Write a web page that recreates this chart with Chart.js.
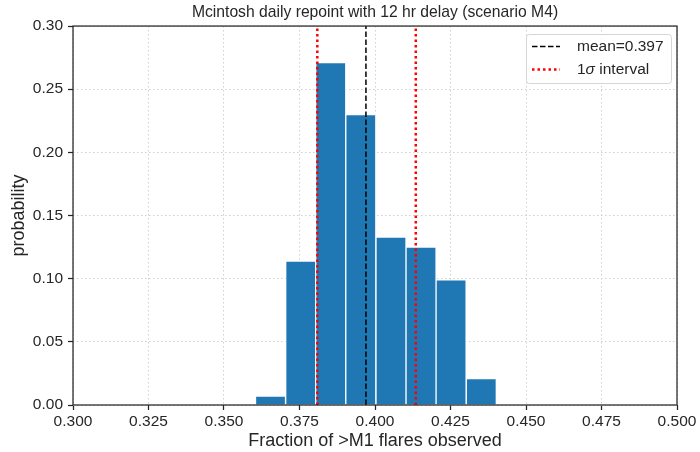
<!DOCTYPE html>
<html>
<head>
<meta charset="utf-8">
<script src="https://cdn.jsdelivr.net/npm/chart.js@4"></script>
<style>
  html, body { margin: 0; padding: 0; background: #fff; }
  #wrap { width: 700px; height: 452px; }
</style>
</head>
<body>
<div id="wrap"><canvas id="chart" width="700" height="452"></canvas></div>
<script>
// histogram bins (edges) and probabilities
const binEdges = [0.3604, 0.3704, 0.3804, 0.3903, 0.4003, 0.4103, 0.4202, 0.4302, 0.4402];
const probabilities = [0.007, 0.114, 0.271, 0.230, 0.133, 0.125, 0.099, 0.021];
const meanValue = 0.397;
const sigmaLow = 0.3809;
const sigmaHigh = 0.4135;
const xTicks = [0.300, 0.325, 0.350, 0.375, 0.400, 0.425, 0.450, 0.475, 0.500];
const yTicks = [0.00, 0.05, 0.10, 0.15, 0.20, 0.25, 0.30];

const FONT = "'Liberation Sans', Arial, sans-serif";
const INK = '#262626';

const barPoints = probabilities.map((p, i) => ({ x: (binEdges[i] + binEdges[i + 1]) / 2, y: p }));

// full frame round the plot + the legend box inside it
const framePlugin = {
  id: 'frame',
  afterDraw(chart) {
    const { ctx, chartArea: a } = chart;
    ctx.save();
    ctx.strokeStyle = INK;
    ctx.lineWidth = 1.25;
    ctx.strokeRect(a.left, a.top, a.right - a.left, a.bottom - a.top);

    // legend
    const bx = 526, by = 34, bw = 145, bh = 49;
    ctx.fillStyle = 'rgba(255,255,255,0.8)';
    ctx.strokeStyle = '#d6d6d6';
    ctx.lineWidth = 1;
    ctx.beginPath();
    ctx.roundRect(bx + 0.5, by + 0.5, bw, bh, 3);
    ctx.fill();
    ctx.stroke();

    const row1 = by + 12.5, row2 = by + 35.5;
    ctx.lineWidth = 1.5;
    ctx.strokeStyle = '#000';
    ctx.setLineDash([5.5, 2.5]);
    ctx.beginPath();
    ctx.moveTo(bx + 6, row1); ctx.lineTo(bx + 34, row1);
    ctx.stroke();

    ctx.lineWidth = 2.5;
    ctx.strokeStyle = 'red';
    ctx.setLineDash([2.5, 3]);
    ctx.beginPath();
    ctx.moveTo(bx + 6, row2); ctx.lineTo(bx + 34, row2);
    ctx.stroke();
    ctx.setLineDash([]);

    ctx.fillStyle = INK;
    ctx.textBaseline = 'middle';
    ctx.textAlign = 'left';
    ctx.font = '15.5px ' + FONT;
    ctx.fillText('mean=' + meanValue.toFixed(3), bx + 51, row1);
    let tx = bx + 51;
    ctx.fillText('1', tx, row2);
    tx += ctx.measureText('1').width;
    ctx.font = 'italic 15.5px ' + FONT;
    ctx.fillText('\u03c3', tx, row2);
    tx += ctx.measureText('\u03c3').width;
    ctx.font = '15.5px ' + FONT;
    ctx.fillText(' interval', tx, row2);
    ctx.restore();
  }
};

new Chart(document.getElementById('chart'), {
  type: 'bar',
  data: {
    datasets: [
      {
        label: 'hist',
        data: barPoints,
        backgroundColor: '#1f77b4',
        borderColor: '#ffffff',
        borderWidth: 1,
        barPercentage: 1,
        categoryPercentage: 1,
        order: 3
      },
      {
        type: 'line',
        label: 'mean=' + meanValue.toFixed(3),
        data: [{ x: meanValue, y: 0 }, { x: meanValue, y: 0.3 }],
        borderColor: '#000',
        borderWidth: 1.5,
        borderDash: [5.5, 2.5],
        pointRadius: 0,
        order: 1
      },
      {
        type: 'line',
        label: '1\u03c3 interval',
        data: [{ x: sigmaLow, y: 0 }, { x: sigmaLow, y: 0.3 }],
        borderColor: 'red',
        borderWidth: 2.5,
        borderDash: [2.5, 3],
        pointRadius: 0,
        order: 2
      },
      {
        type: 'line',
        label: '',
        data: [{ x: sigmaHigh, y: 0 }, { x: sigmaHigh, y: 0.3 }],
        borderColor: 'red',
        borderWidth: 2.5,
        borderDash: [2.5, 3],
        pointRadius: 0,
        order: 2
      }
    ]
  },
  options: {
    responsive: false,
    animation: false,
    layout: { padding: { left: 0, right: 23, top: 0, bottom: 0 } },
    plugins: {
      legend: { display: false },
      tooltip: { enabled: false },
      title: {
        display: true,
        fullSize: false,
        text: 'Mcintosh daily repoint with 12 hr delay (scenario M4)',
        color: INK,
        font: { family: FONT, size: 15.7, weight: 'normal' },
        padding: { top: 3, bottom: 4.2 }
      }
    },
    scales: {
      x: {
        type: 'linear',
        min: 0.3,
        max: 0.5,
        offset: false,
        afterBuildTicks(scale) { scale.ticks = xTicks.map(v => ({ value: v })); },
        afterFit(scale) { scale.height = 47; },
        ticks: {
          color: INK,
          font: { family: FONT, size: 15.5 },
          padding: 2,
          maxRotation: 0,
          callback: v => v.toFixed(3)
        },
        grid: { offset: false, color: '#d0d0d0', tickColor: INK, tickLength: 5, tickWidth: 1.25, lineWidth: 1 },
        border: { display: false, dash: [1.5, 2.5] },
        title: {
          display: true,
          text: 'Fraction of >M1 flares observed',
          color: INK,
          font: { family: FONT, size: 18 },
          padding: { top: 0, bottom: 0 }
        }
      },
      y: {
        min: 0,
        max: 0.3,
        afterBuildTicks(scale) { scale.ticks = yTicks.map(v => ({ value: v })); },
        afterFit(scale) { scale.width = 73; },
        ticks: {
          color: INK,
          font: { family: FONT, size: 15.5 },
          padding: 5,
          callback: v => v.toFixed(2)
        },
        grid: { color: '#d0d0d0', tickColor: INK, tickLength: 5, tickWidth: 1.25, lineWidth: 1 },
        border: { display: false, dash: [1.5, 2.5] },
        title: {
          display: true,
          text: 'probability',
          color: INK,
          font: { family: FONT, size: 18 },
          padding: { top: 8, bottom: 0 }
        }
      }
    }
  },
  plugins: [framePlugin]
});
</script>
</body>
</html>
